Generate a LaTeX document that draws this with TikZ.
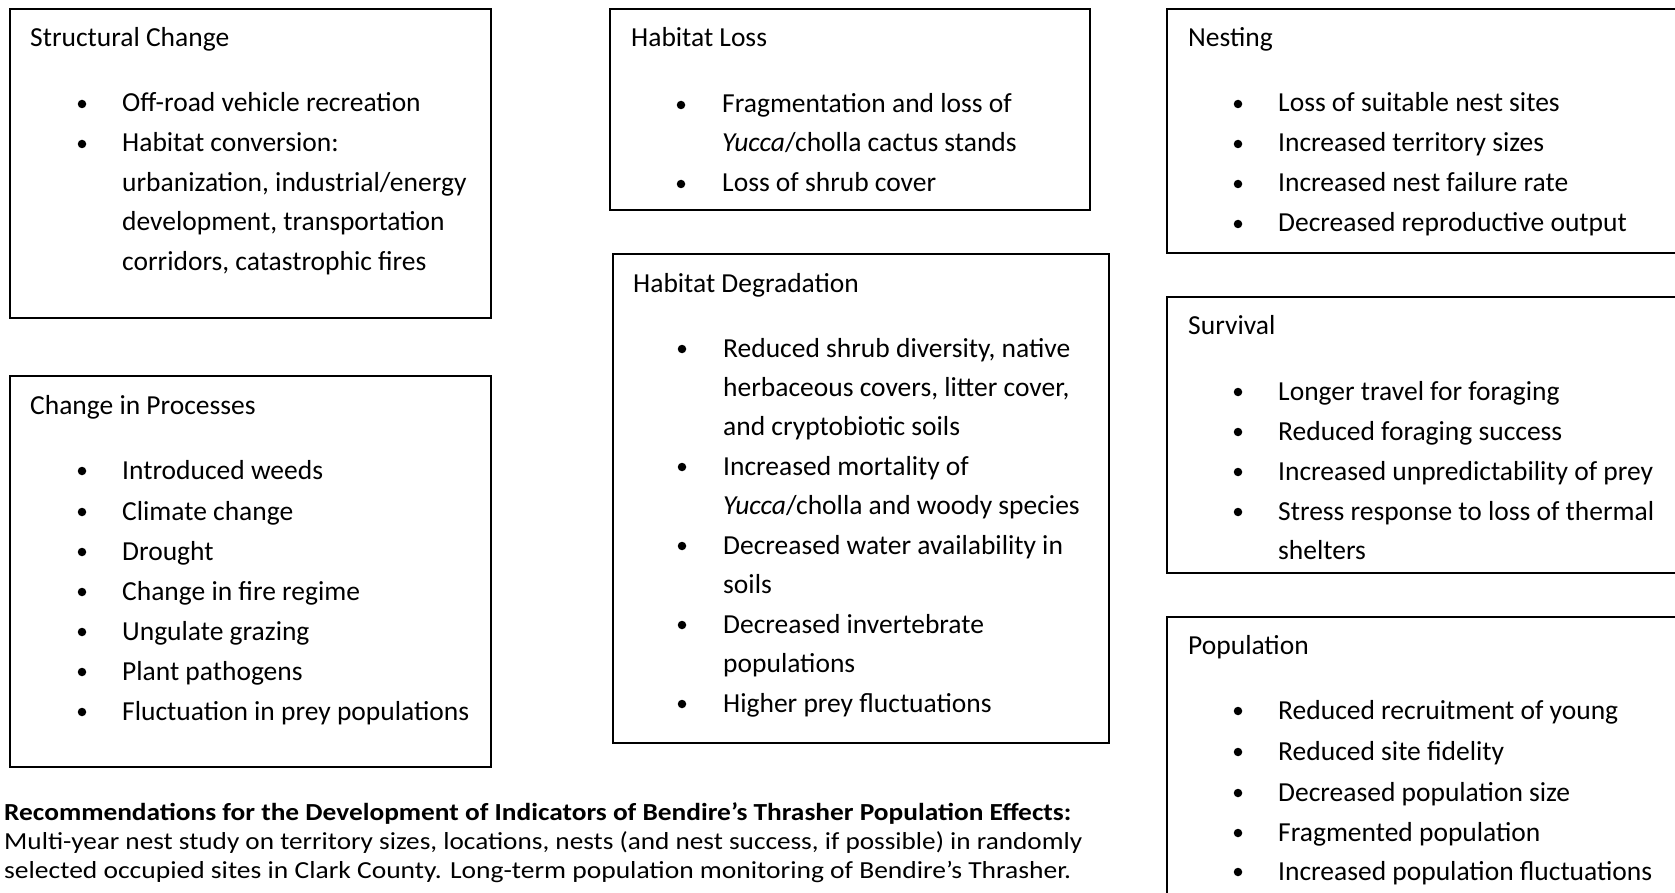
\documentclass[tikz,border=0pt]{standalone}
\usepackage{fontspec}
\setmainfont{Carlito}
\usepackage{graphicx}

\tikzset{
  panel/.style={draw=black, line width=1.6pt, rectangle, inner sep=0pt},
  txt/.style={anchor=base west, inner sep=0pt, font=\fontsize{27.5}{33}\selectfont},
  note/.style={anchor=base west, inner sep=0pt, font=\fontsize{24.5}{29}\selectfont},
  dot/.style={circle, fill=black, inner sep=0pt, minimum size=8.5pt},
}

% bullet item: name, bullet x, text x, baseline, text
\newcommand\bitem[5]{%
  \node[dot] (#1d) at (#2,#4-8) {};
  \node[txt] (#1) at (#3,#4) {#5};}

\begin{document}
\begin{tikzpicture}[x=1pt,y=-1pt]
\clip (0,0) rectangle (1675,893);
\fill[white] (0,0) rectangle (1675,893);

% ---------- frames ----------
\node[panel, minimum width=481pt, minimum height=309pt] (sc) at (250.5,163.5) {};
\node[panel, minimum width=481pt, minimum height=391pt] (cp) at (250.5,571.5) {};
\node[panel, minimum width=480pt, minimum height=201pt] (hl) at (850,109.5) {};
\node[panel, minimum width=496pt, minimum height=489pt] (hd) at (861,498.5) {};
\node[panel, minimum width=533pt, minimum height=244pt] (ne) at (1433.5,131) {};
\node[panel, minimum width=533pt, minimum height=276pt] (su) at (1433.5,435) {};
\node[panel, minimum width=533pt, minimum height=303pt] (po) at (1433.5,768.5) {};

% ---------- Structural Change ----------
\node[txt] (sct) at (30,47) {Structural Change};
\bitem{sc1}{82}{122}{112}{Off-road vehicle recreation}
\bitem{sc2}{82}{122}{152}{Habitat conversion:}
\node[txt] (sc2b) at (122,192) {urbanization, industrial/energy};
\node[txt] (sc2c) at (122,231) {development, transportation};
\node[txt] (sc2d) at (122,271) {corridors, catastrophic fires};

% ---------- Change in Processes ----------
\node[txt] (cpt) at (30,414) {Change in Processes};
\bitem{cp1}{82}{122}{479}{Introduced weeds}
\bitem{cp2}{82}{122}{520}{Climate change}
\bitem{cp3}{82}{122}{560}{Drought}
\bitem{cp4}{82}{122}{600}{Change in fire regime}
\bitem{cp5}{82}{122}{640}{Ungulate grazing}
\bitem{cp6}{82}{122}{680}{Plant pathogens}
\bitem{cp7}{82}{122}{720}{Fluctuation in prey populations}

% ---------- Habitat Loss ----------
\node[txt] (hlt) at (631,47) {Habitat Loss};
\bitem{hl1}{681}{722}{113}{Fragmentation and loss of}
\node[txt] (hl1b) at (722,152) {\textit{Yucca}/cholla cactus stands};
\bitem{hl2}{681}{722}{192}{Loss of shrub cover}

% ---------- Habitat Degradation ----------
\node[txt] (hdt) at (633,292) {Habitat Degradation};
\bitem{hd1}{682}{723}{357}{Reduced shrub diversity, native}
\node[txt] (hd1b) at (723,396) {herbaceous covers, litter cover,};
\node[txt] (hd1c) at (723,435) {and cryptobiotic soils};
\bitem{hd2}{682}{723}{475}{Increased mortality of}
\node[txt] (hd2b) at (723,514) {\textit{Yucca}/cholla and woody species};
\bitem{hd3}{682}{723}{554}{Decreased water availability in}
\node[txt] (hd3b) at (723,593) {soils};
\bitem{hd4}{682}{723}{633}{Decreased invertebrate}
\node[txt] (hd4b) at (723,672) {populations};
\bitem{hd5}{682}{723}{712}{Higher prey fluctuations}

% ---------- Nesting ----------
\node[txt] (net) at (1188,47) {Nesting};
\bitem{ne1}{1238}{1278}{112}{Loss of suitable nest sites}
\bitem{ne2}{1238}{1278}{152}{Increased territory sizes}
\bitem{ne3}{1238}{1278}{192}{Increased nest failure rate}
\bitem{ne4}{1238}{1278}{232}{Decreased reproductive output}

% ---------- Survival ----------
\node[txt] (sut) at (1188,334) {Survival};
\bitem{su1}{1238}{1278}{400}{Longer travel for foraging}
\bitem{su2}{1238}{1278}{440}{Reduced foraging success}
\bitem{su3}{1238}{1278}{480}{Increased unpredictability of prey}
\bitem{su4}{1238}{1278}{520}{Stress response to loss of thermal}
\node[txt] (su4b) at (1278,559) {shelters};

% ---------- Population ----------
\node[txt] (pot) at (1188,654) {Population};
\bitem{po1}{1238}{1278}{719}{Reduced recruitment of young}
\bitem{po2}{1238}{1278}{760}{Reduced site fidelity}
\bitem{po3}{1238}{1278}{801}{Decreased population size}
\bitem{po4}{1238}{1278}{841}{Fragmented population}
\bitem{po5}{1238}{1278}{880}{Increased population fluctuations}

% ---------- recommendations ----------
\node[note] (rec1) at (4,820) {\resizebox{1067pt}{\height}{\textbf{Recommendations for the Development of Indicators of Bendire’s Thrasher Population Effects:}}};
\node[note] (rec2) at (4,849) {\resizebox{1078pt}{\height}{Multi-year nest study on territory sizes, locations, nests (and nest success, if possible) in randomly}};
\node[note] (rec3) at (4,878) {\resizebox{1067pt}{\height}{selected occupied sites in Clark County. Long-term population monitoring of Bendire’s Thrasher.}};
\end{tikzpicture}
\end{document}
